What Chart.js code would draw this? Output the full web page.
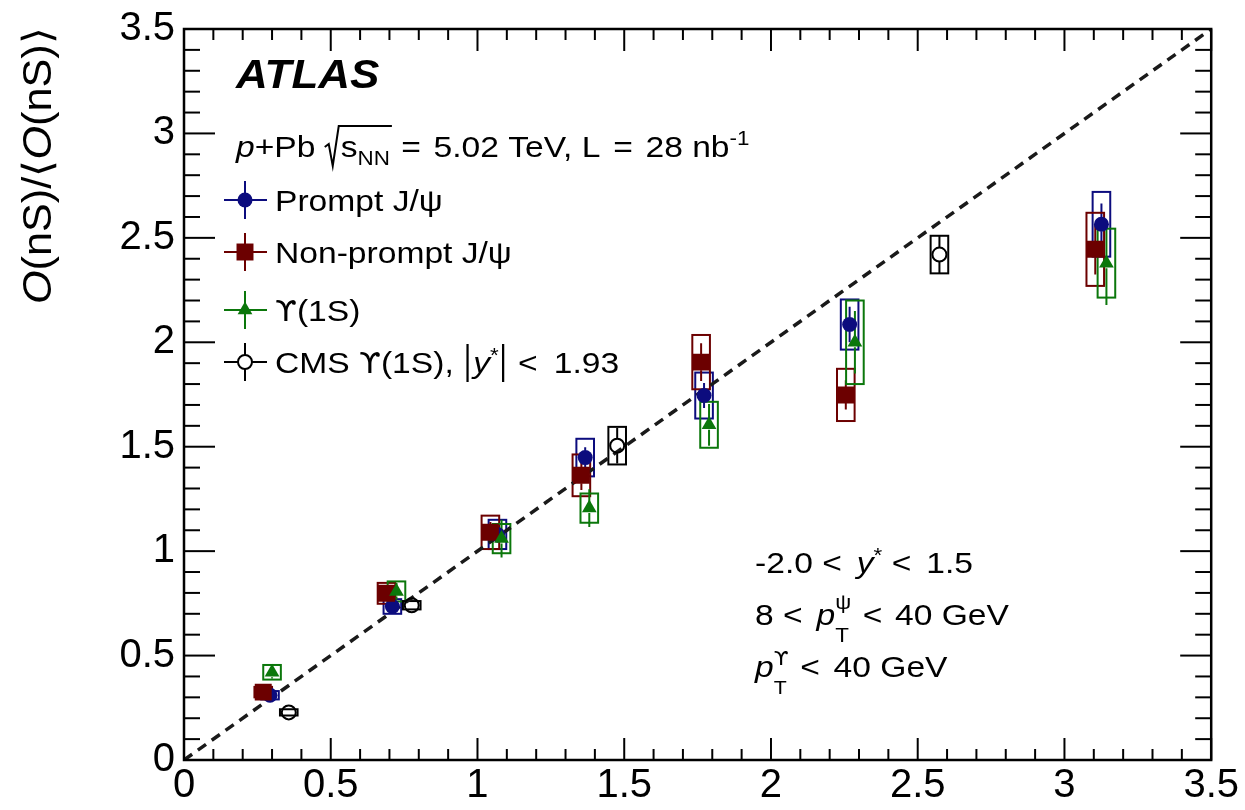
<!DOCTYPE html>
<html>
<head>
<meta charset="utf-8">
<script src="https://cdn.jsdelivr.net/npm/chart.js@4.4.1/dist/chart.umd.min.js"></script>
<style>
  html, body { margin: 0; padding: 0; background: #fff; }
  #wrap { width: 1245px; height: 810px; }
</style>
</head>
<body>
<div id="wrap"><canvas id="c" width="1245" height="810"></canvas></div>
<script>
// per-point normalised values: x, y, stat. error, syst. error
const promptX = [0.293, 0.71, 1.068, 1.367, 1.772, 2.268, 3.126];
const promptY = [0.31, 0.735, 1.08, 1.448, 1.745, 2.085, 2.565];
const promptStat = [0.02, 0.02, 0.04, 0.05, 0.06, 0.085, 0.1];
const promptSys = [0.02, 0.035, 0.07, 0.09, 0.11, 0.12, 0.155];

const nonpromptX = [0.27, 0.69, 1.044, 1.354, 1.762, 2.255, 3.105];
const nonpromptY = [0.325, 0.798, 1.09, 1.363, 1.905, 1.748, 2.445];
const nonpromptStat = [0.02, 0.03, 0.05, 0.07, 0.09, 0.07, 0.12];
const nonpromptSys = [0.025, 0.05, 0.08, 0.1, 0.13, 0.125, 0.175];

const upsX = [0.30, 0.724, 1.082, 1.381, 1.789, 2.286, 3.143];
const upsY = [0.42, 0.807, 1.06, 1.206, 1.605, 2.0, 2.379];
const upsStat = [0.03, 0.04, 0.09, 0.09, 0.1, 0.15, 0.2];
const upsSys = [0.035, 0.048, 0.07, 0.07, 0.11, 0.2, 0.165];

const cmsX = [0.357, 0.776, 1.476, 2.574];
const cmsY = [0.228, 0.741, 1.505, 2.42];
const cmsStat = [0.015, 0.02, 0.085, 0.09];
const cmsSys = [0.015, 0.02, 0.09, 0.09];

// y = x reference line
const diagX = [0, 3.5];
const diagY = [0, 3.5];

const xTicks = [0, 0.5, 1, 1.5, 2, 2.5, 3, 3.5];
const yTicks = [0, 0.5, 1, 1.5, 2, 2.5, 3, 3.5];

const FONT = '"Liberation Sans", Arial, Helvetica, sans-serif';
const UPS_FONT = '"DejaVu Sans", sans-serif';  // has the hooked upsilon
const NAVY = '#0c0c7e';
const MAROON = '#6c0000';
const GREEN = '#0b770b';
const BOX_HW = 0.03;   // half width of the syst. boxes, in x units
const STRETCH = 1.12;  // text is a bit wide in this style

const pts = (xs, ys) => xs.map((x, i) => ({ x: x, y: ys[i] }));

// gap = half of the drawn marker height, error bars stop there
const series = [
  { label: 'Prompt J/ψ', xs: promptX, ys: promptY, stat: promptStat, sys: promptSys,
    color: NAVY, style: 'circle', radius: 7.5, gap: 7, fill: NAVY, order: 3 },
  { label: 'Non-prompt J/ψ', xs: nonpromptX, ys: nonpromptY, stat: nonpromptStat, sys: nonpromptSys,
    color: MAROON, style: 'rect', radius: 12, gap: 8, fill: MAROON, order: 2 },
  { label: 'ϒ(1S)', xs: upsX, ys: upsY, stat: upsStat, sys: upsSys,
    color: GREEN, style: 'triangle', radius: 8.5, gap: 5, fill: GREEN, order: 1 },
  { label: 'CMS', xs: cmsX, ys: cmsY, stat: cmsStat, sys: cmsSys,
    color: '#000', style: 'circle', radius: 7, gap: 7, fill: 'rgba(0,0,0,0)', border: 2, order: 4 }
];

const datasets = series.map(s => ({
  label: s.label,
  data: pts(s.xs, s.ys),
  pointStyle: s.style,
  pointRadius: s.radius,
  pointBackgroundColor: s.fill,
  pointBorderColor: s.color,
  pointBorderWidth: s.border || 0,
  showLine: false,
  order: s.order,
  errs: { stat: s.stat, sys: s.sys, color: s.color, gap: s.gap }
}));
datasets.push({
  label: 'y = x',
  data: pts(diagX, diagY),
  showLine: true,
  borderColor: '#1a1a1a',
  borderWidth: 3.5,
  borderDash: [10, 7],
  pointRadius: 0,
  order: 10
});

function line(ctx, x1, y1, x2, y2) {
  ctx.beginPath();
  ctx.moveTo(x1, y1);
  ctx.lineTo(x2, y2);
  ctx.stroke();
}

// draws a row of text pieces; returns the end x
function drawRuns(ctx, x, y, runs) {
  ctx.save();
  ctx.setLineDash([]);
  ctx.translate(x, y);
  ctx.scale(STRETCH, 1);
  ctx.fillStyle = '#000';
  ctx.strokeStyle = '#000';
  ctx.textBaseline = 'alphabetic';
  ctx.textAlign = 'left';
  let cx = 0;
  for (const r of runs) {
    if (r.bar) {
      ctx.lineWidth = 2;
      line(ctx, cx + 4, -29, cx + 4, 9);
      cx += 9;
      continue;
    }
    if (r.stack) {
      ctx.font = (r.size || 30) + 'px ' + FONT;
      ctx.fillText(r.sub, cx, 17);
      const wSub = ctx.measureText(r.sub).width;
      ctx.font = (r.size || 30) + 'px ' + (r.supFont || FONT);
      ctx.fillText(r.sup, cx, r.supDy || -13);
      cx += Math.max(wSub, ctx.measureText(r.sup).width) + 2;
      continue;
    }
    ctx.font = (r.style || '') + ' ' + (r.size || 30) + 'px ' + (r.font || FONT);
    ctx.fillText(r.t, cx, r.dy || 0);
    cx += ctx.measureText(r.t).width + (r.gap || 0);
  }
  ctx.restore();
  return x + cx * STRETCH;
}

const errorBoxes = {
  id: 'errorBoxes',
  beforeDatasetsDraw(chart) {
    const { ctx, chartArea: a } = chart;
    const xs = chart.scales.x, ys = chart.scales.y;
    ctx.save();
    ctx.setLineDash([]);
    ctx.beginPath();
    ctx.rect(a.left, a.top, a.right - a.left, a.bottom - a.top);
    ctx.clip();
    chart.data.datasets.forEach(ds => {
      if (!ds.errs) return;
      const e = ds.errs;
      ctx.strokeStyle = e.color;
      ctx.lineWidth = 2;
      ds.data.forEach((p, i) => {
        const x1 = xs.getPixelForValue(p.x - BOX_HW);
        const x2 = xs.getPixelForValue(p.x + BOX_HW);
        const yTop = ys.getPixelForValue(p.y + e.sys[i]);
        const yBot = ys.getPixelForValue(p.y - e.sys[i]);
        ctx.strokeRect(x1, yTop, x2 - x1, yBot - yTop);
        const px = xs.getPixelForValue(p.x);
        const py = ys.getPixelForValue(p.y);
        const sTop = ys.getPixelForValue(p.y + e.stat[i]);
        const sBot = ys.getPixelForValue(p.y - e.stat[i]);
        if (py - sTop > e.gap) line(ctx, px, sTop, px, py - e.gap);
        if (sBot - py > e.gap) line(ctx, px, py + e.gap, px, sBot);
      });
    });
    ctx.restore();
  }
};

const frameAndText = {
  id: 'frameAndText',
  afterDraw(chart) {
    const { ctx, chartArea: a } = chart;
    const xs = chart.scales.x, ys = chart.scales.y;
    ctx.save();
    ctx.setLineDash([]);
    ctx.strokeStyle = '#000';
    ctx.lineWidth = 2.5;
    ctx.strokeRect(a.left, a.top, a.right - a.left, a.bottom - a.top);

    // inward ticks on all four sides, minor every 0.1
    ctx.lineWidth = 2;
    for (let i = 0; i <= 35; i++) {
      const v = i / 10;
      const major = i % 5 === 0;
      const px = xs.getPixelForValue(v);
      const lx = major ? 22 : 11;
      line(ctx, px, a.bottom, px, a.bottom - lx);
      line(ctx, px, a.top, px, a.top + lx);
      const py = ys.getPixelForValue(v);
      const ly = major ? 31 : 16;
      line(ctx, a.left, py, a.left + ly, py);
      line(ctx, a.right, py, a.right - ly, py);
    }

    // y axis title
    ctx.save();
    ctx.translate(51, a.top - 2);
    ctx.rotate(-Math.PI / 2);
    ctx.scale(1.08, 1);
    ctx.fillStyle = '#000';
    ctx.textBaseline = 'alphabetic';
    const title = [['O', 'italic'], ['(nS)/⟨', ''], ['O', 'italic'], ['(nS)⟩', '']];
    let w = 0;
    title.forEach(([t, st]) => { ctx.font = st + ' 40px ' + FONT; w += ctx.measureText(t).width; });
    let tx = -w;
    title.forEach(([t, st]) => {
      ctx.font = st + ' 40px ' + FONT;
      ctx.fillText(t, tx, 0);
      tx += ctx.measureText(t).width;
    });
    ctx.restore();

    // ATLAS label
    ctx.save();
    ctx.translate(236, 88);
    ctx.scale(1.1, 1);
    ctx.font = 'italic bold 40px ' + FONT;
    ctx.fillStyle = '#000';
    ctx.fillText('ATLAS', 0, 0);
    ctx.restore();

    // collision system line, with a drawn radical over s_NN
    let x = drawRuns(ctx, 236, 157, [{ t: 'p', style: 'italic' }, { t: '+Pb ' }]);
    const rx = x;
    ctx.strokeStyle = '#000';
    ctx.lineWidth = 2;
    ctx.beginPath();
    ctx.moveTo(rx, 147);
    ctx.lineTo(rx + 4, 144);
    ctx.lineTo(rx + 8, 166);
    ctx.lineTo(rx + 14, 126);
    const sEnd = drawRuns(ctx, rx + 16, 157, [{ t: 's' }, { t: 'NN', size: 20, dy: 8 }]);
    ctx.lineTo(sEnd + 2, 126);
    ctx.stroke();
    x = drawRuns(ctx, sEnd + 2, 157, [{ t: ' =', gap: 3 }, { t: ' 5.02 TeV, L', gap: 3 }, { t: ' =', gap: 3 },
      { t: ' 28 nb' }]);
    drawRuns(ctx, x, 157, [{ t: '-1', size: 20, dy: -12 }]);

    // legend: marker with error cross, then text
    const legendY = [200, 252, 310, 362];
    const legendText = [
      [{ t: 'Prompt J/ψ' }],
      [{ t: 'Non-prompt J/ψ' }],
      [{ t: 'ϒ', font: UPS_FONT, size: 28 }, { t: '(1S)' }],
      [{ t: 'CMS ' }, { t: 'ϒ', font: UPS_FONT, size: 28 }, { t: '(1S), ' }, { bar: true },
       { t: 'y', style: 'italic' }, { t: '*', size: 20, dy: -11 }, { bar: true }, { t: ' <', gap: 6 },
       { t: ' 1.93' }]
    ];
    series.forEach((s, i) => {
      const cx = 245, cy = legendY[i];
      ctx.strokeStyle = s.color;
      ctx.lineWidth = 2;
      const g = s.border ? s.radius : 0;
      line(ctx, cx - 21, cy, cx - g, cy);
      line(ctx, cx + g, cy, cx + 22, cy);
      line(ctx, cx, cy - 19, cx, cy - g);
      line(ctx, cx, cy + g, cx, cy + 19);
      ctx.fillStyle = s.fill;
      ctx.strokeStyle = s.color;
      ctx.lineWidth = s.border || 0;
      Chart.helpers.drawPoint(ctx, {
        pointStyle: s.style, radius: s.radius, rotation: 0, borderWidth: s.border || 0
      }, cx, cy);
      drawRuns(ctx, 275, cy + 11, legendText[i]);
    });

    // kinematic selection
    drawRuns(ctx, 755, 573, [{ t: '-2.0 <', gap: 5 }, { t: ' ' }, { t: 'y', style: 'italic' },
      { t: '*', size: 20, dy: -11 }, { t: ' <', gap: 5 }, { t: ' 1.5' }]);
    drawRuns(ctx, 755, 625, [{ t: '8 <', gap: 4 }, { t: ' ' }, { t: 'p', style: 'italic' },
      { stack: true, sub: 'T', sup: 'ψ', size: 20, supDy: -16 }, { t: ' <', gap: 3 }, { t: ' 40 GeV' }]);
    drawRuns(ctx, 755, 677, [{ t: 'p', style: 'italic' },
      { stack: true, sub: 'T', sup: 'ϒ', supFont: UPS_FONT, size: 19, supDy: -12 },
      { t: ' <', gap: 4 }, { t: ' 40 GeV' }]);
    ctx.restore();
  }
};

const tickFont = { family: FONT, size: 40, lineHeight: 1 };

new Chart(document.getElementById('c'), {
  type: 'scatter',
  data: { datasets: datasets },
  options: {
    responsive: false,
    animation: false,
    devicePixelRatio: 1,
    layout: { padding: { top: 22, right: 32, left: 0, bottom: 0 } },
    plugins: { legend: { display: false }, tooltip: { enabled: false } },
    scales: {
      x: {
        type: 'linear', min: 0, max: 3.5,
        afterBuildTicks: s => { s.ticks = xTicks.map(v => ({ value: v })); },
        afterFit: s => { s.height = 50; },
        grid: { display: false, drawTicks: false },
        border: { display: false },
        ticks: { font: tickFont, color: '#000', padding: 6, maxRotation: 0, autoSkip: false,
                 callback: v => String(v) }
      },
      y: {
        type: 'linear', min: 0, max: 3.5,
        afterBuildTicks: s => { s.ticks = yTicks.map(v => ({ value: v })); },
        afterFit: s => { s.width = 184; },
        grid: { display: false, drawTicks: false },
        border: { display: false },
        ticks: { font: tickFont, color: '#000', padding: 9, autoSkip: false,
                 callback: v => String(v) }
      }
    }
  },
  plugins: [errorBoxes, frameAndText]
});
</script>
</body>
</html>
